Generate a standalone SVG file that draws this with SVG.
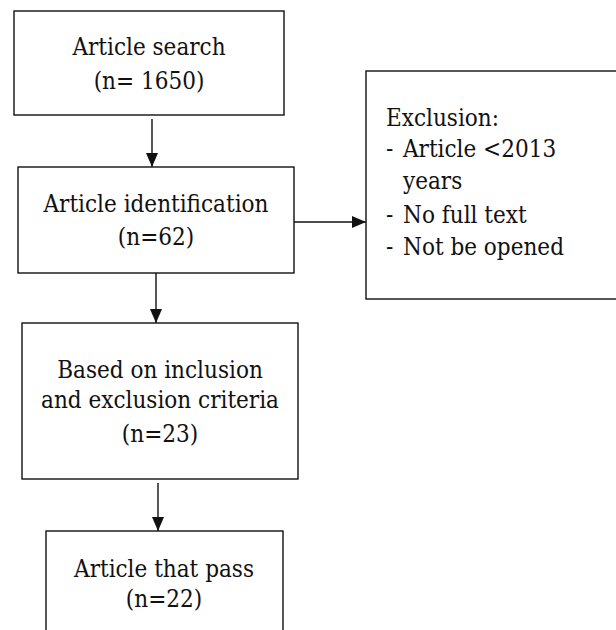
<svg xmlns="http://www.w3.org/2000/svg" width="616" height="630" viewBox="0 0 616 630">
<defs>
<style>
.box{fill:#fff;stroke:#111;stroke-width:1.4}
.t{font-family:'DejaVu Serif Condensed','DejaVu Serif','Liberation Serif',serif;font-stretch:condensed;font-size:24px;fill:#111}
.c{text-anchor:middle}
.ln{stroke:#111;stroke-width:1.4;fill:none}
</style>
<marker id="ah" markerUnits="userSpaceOnUse" markerWidth="14" markerHeight="14" viewBox="0 0 14 14" refX="14" refY="7" orient="auto">
<path d="M0,1 L14,7 L0,13 Z" fill="#111"/>
</marker>
</defs>
<rect width="616" height="630" fill="#fff"/>
<g id="connectors">
<line class="ln" x1="152" y1="119" x2="152" y2="167" marker-end="url(#ah)"/>
<line class="ln" x1="294" y1="222" x2="366" y2="222" marker-end="url(#ah)"/>
<line class="ln" x1="156" y1="273" x2="156" y2="323" marker-end="url(#ah)"/>
<line class="ln" x1="158" y1="483" x2="158" y2="531" marker-end="url(#ah)"/>
</g>
<g id="search">
<rect class="box" x="14" y="11" width="270" height="104"/>
<text class="t c" x="149" y="55">Article search</text>
<text class="t c" x="149" y="89">(n= 1650)</text>
</g>
<g id="identification">
<rect class="box" x="18" y="167" width="276" height="106"/>
<text class="t c" x="156" y="212">Article identification</text>
<text class="t c" x="156" y="245">(n=62)</text>
</g>
<g id="exclusion">
<rect class="box" x="366" y="71" width="260" height="228"/>
<text class="t" x="386" y="126">Exclusion:</text>
<text class="t" x="386" y="157">-</text><text class="t" x="403" y="157">Article &lt;2013</text>
<text class="t" x="403" y="189">years</text>
<text class="t" x="386" y="223">-</text><text class="t" x="403" y="223">No full text</text>
<text class="t" x="386" y="255">-</text><text class="t" x="403" y="255">Not be opened</text>
</g>
<g id="criteria">
<rect class="box" x="22" y="323" width="276" height="156"/>
<text class="t c" x="160" y="378">Based on inclusion</text>
<text class="t c" x="160" y="408">and exclusion criteria</text>
<text class="t c" x="160" y="442">(n=23)</text>
</g>
<g id="pass">
<rect class="box" x="46" y="531" width="237" height="120"/>
<text class="t c" x="164" y="577">Article that pass</text>
<text class="t c" x="164" y="607">(n=22)</text>
</g>
</svg>
